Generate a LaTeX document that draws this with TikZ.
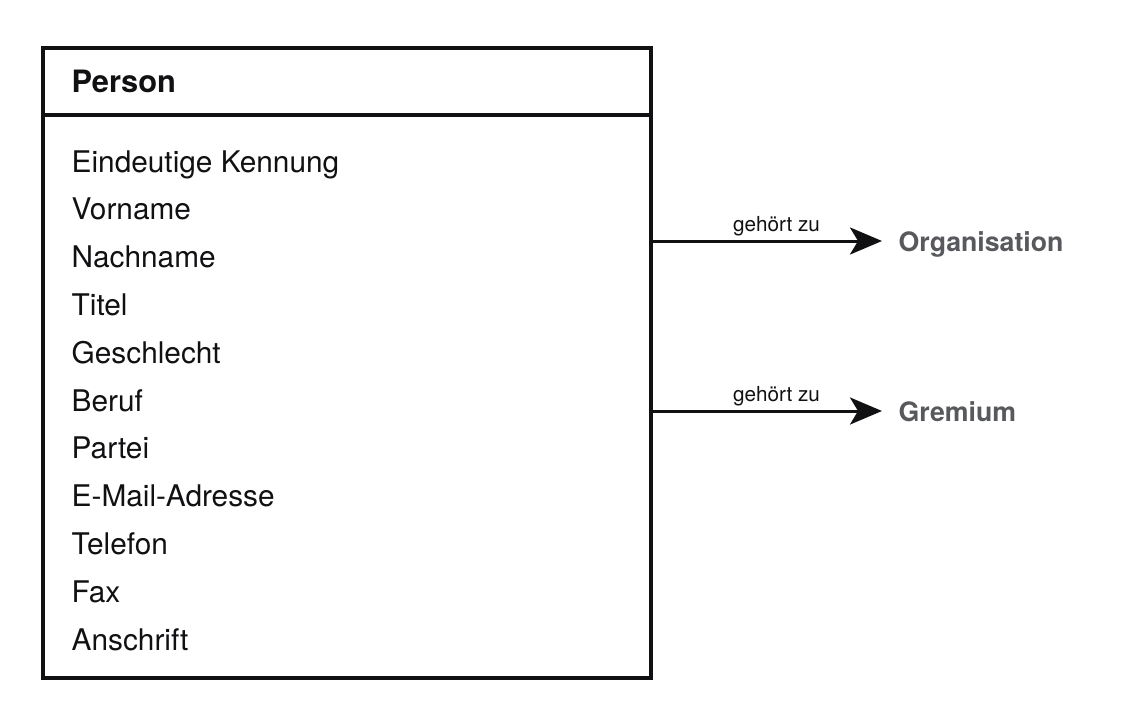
\documentclass[tikz,border=0pt]{standalone}
\usepackage{fontspec}
\setmainfont{TeX Gyre Heros}
\usetikzlibrary{arrows.meta}
\definecolor{ink}{RGB}{17,17,20}
\definecolor{relgray}{RGB}{88,89,92}
\tikzset{
  boxline/.style={draw=ink, line width=3.2pt},
  attr/.style={anchor=base west, inner sep=0pt, text=ink, font=\fontsize{29.8}{30}\selectfont},
  headtext/.style={anchor=base west, inner sep=0pt, text=ink, font=\fontsize{30.8}{31}\selectfont\bfseries},
  reltext/.style={anchor=base west, inner sep=0pt, text=relgray, font=\fontsize{26.7}{28}\selectfont\bfseries},
  lbltext/.style={anchor=base, inner sep=0pt, text=ink, font=\fontsize{20.7}{21}\selectfont},
  relarrow/.style={draw=ink, line width=3pt, -{Stealth[length=32pt, width=27pt, inset=8pt]}}
}
\begin{document}
\begin{tikzpicture}[x=1pt, y=-1pt]
\useasboundingbox (0,0) rectangle (1147,725);
\fill[white] (0,0) rectangle (1147,725);
% box
\draw[boxline] (43,48) rectangle (651,678);
\draw[boxline] (43,115) -- (651,115);
\coordinate (boxE1) at (651,241);
\coordinate (boxE2) at (651,411);
\node[headtext] (title) at (71.5,92) {Person};
\node[attr] (a1) at (71.5,172.0) {Eindeutige Kennung};
\node[attr] (a2) at (71.5,219.8) {Vorname};
\node[attr] (a3) at (71.5,267.6) {Nachname};
\node[attr] (a4) at (71.5,315.4) {Titel};
\node[attr] (a5) at (71.5,363.2) {Geschlecht};
\node[attr] (a6) at (71.5,411.0) {Beruf};
\node[attr] (a7) at (71.5,458.8) {Partei};
\node[attr] (a8) at (71.5,506.6) {E-Mail-Adresse};
\node[attr] (a9) at (71.5,554.4) {Telefon};
\node[attr] (a10) at (71.5,602.2) {Fax};
\node[attr] (a11) at (71.5,650.0) {Anschrift};
% targets
\node[reltext] (org) at (898.5,251.5) {Organisation};
\node[reltext] (grem) at (898.5,421.5) {Gremium};
\coordinate (tip1) at (882,241);
\coordinate (tip2) at (882,411);
\draw[relarrow] (boxE1) -- (tip1);
\draw[relarrow] (boxE2) -- (tip2);
\node[lbltext] (l1) at (776.5,231.5) {gehört zu};
\node[lbltext] (l2) at (776.5,401.5) {gehört zu};
\end{tikzpicture}
\end{document}
